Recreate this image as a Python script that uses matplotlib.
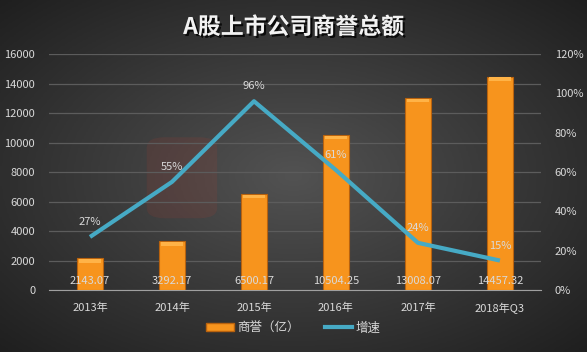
import numpy as np
import matplotlib.pyplot as plt
import matplotlib.patheffects as pe
from matplotlib.patches import Patch, FancyBboxPatch
from matplotlib.lines import Line2D

plt.rcParams['font.family'] = ['Noto Sans CJK SC', 'DejaVu Sans']

# data
years = ['2013年', '2014年', '2015年', '2016年', '2017年', '2018年Q3']
goodwill = [2143.07, 3292.17, 6500.17, 10504.25, 13008.07, 14457.32]
growth = [27, 55, 96, 61, 24, 15]

txt = '#d9d9d9'
orange = '#f7941d'
blue = '#46aac5'

fig = plt.figure(figsize=(5.87, 3.52), dpi=100)

# dark radial background
bg = fig.add_axes([0, 0, 1, 1], zorder=-10)
yy, xx = np.mgrid[0:1:200j, 0:1:300j]
r = np.sqrt(((xx - 0.5) / 0.75) ** 2 + ((yy - 0.5) / 0.75) ** 2)
bg.imshow(np.clip(r, 0, 1), cmap=plt.cm.colors.LinearSegmentedColormap.from_list(
    'bg', ['#525252', '#1c1c1c']), extent=[0, 1, 0, 1], aspect='auto', vmin=0, vmax=1)
# faint watermark logo
bg.add_patch(FancyBboxPatch((0.27, 0.40), 0.08, 0.19,
                            boxstyle='round,pad=0.02,rounding_size=0.03',
                            facecolor='#c0392b', alpha=0.13, linewidth=0))
bg.set_xlim(0, 1)
bg.set_ylim(0, 1)
bg.axis('off')

ax = fig.add_axes([0.0835, 0.176, 0.838, 0.6705])
ax.patch.set_alpha(0)
x = np.arange(len(years))

bars = ax.bar(x, goodwill, width=0.31, color=orange, edgecolor='#b8620e',
              linewidth=0.8, zorder=3)
for b in bars:
    # top bevel highlight
    ax.bar(b.get_x() + b.get_width() / 2, 250, bottom=b.get_height() - 280,
           width=b.get_width() * 0.85, color='#ffb347', linewidth=0, zorder=3.5)
for xi, v in zip(x, goodwill):
    ax.text(xi, 300, '%.2f' % v, ha='center', va='bottom', color=txt, fontsize=8,
            zorder=6)

ax.set_ylim(0, 16000)
ax.set_yticks(range(0, 16001, 2000))
ax.set_xlim(-0.5, len(years) - 0.5)
ax.set_xticks(x)
ax.set_xticklabels(years)
ax.grid(axis='y', color='#5c5c5c', linewidth=0.9, zorder=0)
ax.set_axisbelow(True)
for s in ['top', 'right', 'left']:
    ax.spines[s].set_visible(False)
ax.spines['bottom'].set_color('#a0a0a0')
ax.tick_params(axis='both', length=0, colors=txt, labelsize=8)
ax.tick_params(axis='x', pad=9)
ax.tick_params(axis='y', pad=10)

ax2 = ax.twinx()
ax2.plot(x, growth, color=blue, linewidth=3, solid_capstyle='butt', zorder=4)
ax2.set_ylim(0, 120)
ax2.set_yticks(range(0, 121, 20))
ax2.set_yticklabels(['%d%%' % t for t in range(0, 121, 20)])
ax2.tick_params(axis='y', length=0, colors=txt, labelsize=8, pad=10)
for s in ax2.spines.values():
    s.set_visible(False)
for xi, g in zip(x, growth):
    ax2.text(xi, g + 5, '%d%%' % g, ha='center', va='bottom', color=txt, fontsize=8,
             zorder=6)

fig.text(0.5, 0.922, 'A股上市公司商誉总额', ha='center', va='center', fontsize=16.5,
         fontweight='bold', color='#f2f2f2',
         path_effects=[pe.withSimplePatchShadow(offset=(1.5, -1.5), shadow_rgbFace='black', alpha=0.8)])

handles = [Patch(facecolor=orange, edgecolor='#b8620e'),
           Line2D([0], [0], color=blue, linewidth=3)]
leg = fig.legend(handles, ['商誉（亿）', '增速'], loc='center', bbox_to_anchor=(0.5, 0.068),
                 ncol=2, frameon=False, fontsize=9, handlelength=2.2, handleheight=0.6,
                 columnspacing=2.0, handletextpad=0.3)
for t in leg.get_texts():
    t.set_color(txt)

fig.savefig('out.png', dpi=100)
